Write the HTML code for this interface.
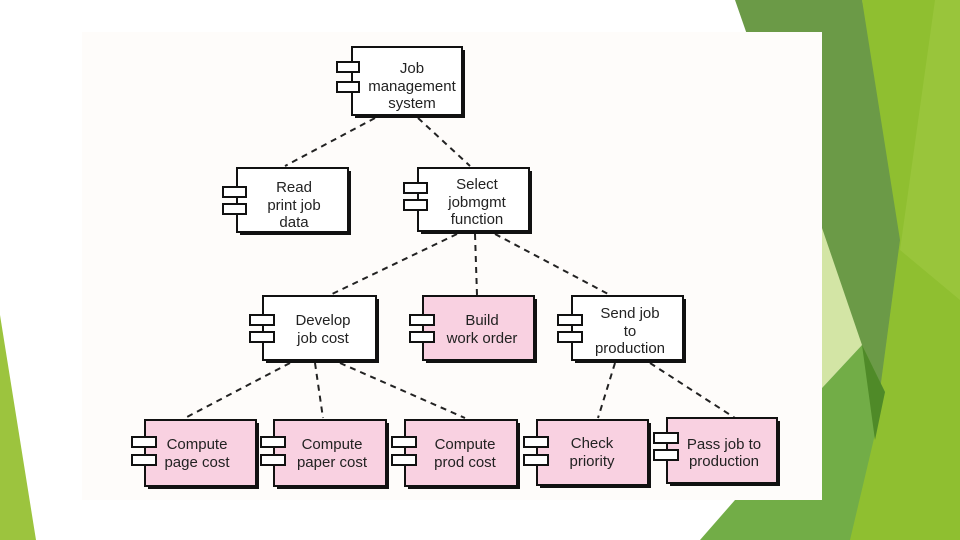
<!DOCTYPE html>
<html><head><style>
body{margin:0;width:960px;height:540px;overflow:hidden;background:#fff;font-family:"Liberation Sans",sans-serif}
</style></head><body>
<svg width="960" height="540" xmlns="http://www.w3.org/2000/svg" style="position:absolute;left:0;top:0">
<polygon points="0,315 36,540 0,540" fill="#9cc43e"/>
<polygon points="862,0 960,0 960,540 715,540 880,390" fill="#8fbf30"/>
<polygon points="935,0 960,0 960,300 900,250" fill="#9cc840" opacity="0.7"/>
<polygon points="735,0 862,0 900,240 880,390 822,250" fill="#6b9a47"/>
<polygon points="822,228 862,345 822,388" fill="#d3e5a5"/>
<polygon points="822,388 862,345 885,392 850,540 700,540 735,500 822,500" fill="#72ad47"/>
<polygon points="862,345 885,392 875,440" fill="#4f8a28"/>
<rect x="82" y="32" width="740" height="468" fill="#fefcfa"/>
<g stroke="#222" stroke-width="2" stroke-dasharray="6,5" fill="none">
<line x1="375" y1="118" x2="285" y2="166"/><line x1="418" y1="118" x2="470" y2="166"/>
<line x1="457" y1="234" x2="330" y2="295"/><line x1="475" y1="234" x2="477" y2="295"/><line x1="495" y1="234" x2="610" y2="295"/>
<line x1="290" y1="363" x2="185" y2="418"/><line x1="315" y1="363" x2="323" y2="418"/><line x1="340" y1="363" x2="465" y2="418"/>
<line x1="615" y1="363" x2="598" y2="418"/><line x1="650" y1="363" x2="735" y2="418"/>
</g>
<g font-size="15" fill="#222" text-anchor="middle">
<g>
<rect x="355" y="50" width="110" height="68" fill="#111"/>
<rect x="352" y="47" width="110" height="68" fill="#fff" stroke="#111" stroke-width="2"/>
<rect x="337" y="62" width="22" height="10" fill="#fff" stroke="#111" stroke-width="2"/>
<rect x="337" y="82" width="22" height="10" fill="#fff" stroke="#111" stroke-width="2"/>
<text x="412" y="73">Job</text><text x="412" y="91">management</text><text x="412" y="108">system</text>
</g>
<g>
<rect x="240" y="171" width="111" height="64" fill="#111"/>
<rect x="237" y="168" width="111" height="64" fill="#fff" stroke="#111" stroke-width="2"/>
<rect x="223" y="187" width="23" height="10" fill="#fff" stroke="#111" stroke-width="2"/>
<rect x="223" y="204" width="23" height="10" fill="#fff" stroke="#111" stroke-width="2"/>
<text x="294" y="192">Read</text><text x="294" y="210">print job</text><text x="294" y="227">data</text>
</g>
<g>
<rect x="421" y="171" width="111" height="63" fill="#111"/>
<rect x="418" y="168" width="111" height="63" fill="#fff" stroke="#111" stroke-width="2"/>
<rect x="404" y="183" width="23" height="10" fill="#fff" stroke="#111" stroke-width="2"/>
<rect x="404" y="200" width="23" height="10" fill="#fff" stroke="#111" stroke-width="2"/>
<text x="477" y="189">Select</text><text x="477" y="207">jobmgmt</text><text x="477" y="224">function</text>
</g>
<g>
<rect x="266" y="299" width="113" height="64" fill="#111"/>
<rect x="263" y="296" width="113" height="64" fill="#fff" stroke="#111" stroke-width="2"/>
<rect x="250" y="315" width="24" height="10" fill="#fff" stroke="#111" stroke-width="2"/>
<rect x="250" y="332" width="24" height="10" fill="#fff" stroke="#111" stroke-width="2"/>
<text x="323" y="325">Develop</text><text x="323" y="343">job cost</text>
</g>
<g>
<rect x="426" y="299" width="111" height="64" fill="#111"/>
<rect x="423" y="296" width="111" height="64" fill="#f9d1e1" stroke="#111" stroke-width="2"/>
<rect x="410" y="315" width="24" height="10" fill="#fff" stroke="#111" stroke-width="2"/>
<rect x="410" y="332" width="24" height="10" fill="#fff" stroke="#111" stroke-width="2"/>
<text x="482" y="325">Build</text><text x="482" y="343">work order</text>
</g>
<g>
<rect x="575" y="299" width="111" height="64" fill="#111"/>
<rect x="572" y="296" width="111" height="64" fill="#fff" stroke="#111" stroke-width="2"/>
<rect x="558" y="315" width="24" height="10" fill="#fff" stroke="#111" stroke-width="2"/>
<rect x="558" y="332" width="24" height="10" fill="#fff" stroke="#111" stroke-width="2"/>
<text x="630" y="318">Send job</text><text x="630" y="336">to</text><text x="630" y="353">production</text>
</g>
<g>
<rect x="148" y="423" width="111" height="66" fill="#111"/>
<rect x="145" y="420" width="111" height="66" fill="#f9d1e1" stroke="#111" stroke-width="2"/>
<rect x="132" y="437" width="24" height="10" fill="#fff" stroke="#111" stroke-width="2"/>
<rect x="132" y="455" width="24" height="10" fill="#fff" stroke="#111" stroke-width="2"/>
<text x="197" y="449">Compute</text><text x="197" y="467">page cost</text>
</g>
<g>
<rect x="277" y="423" width="112" height="66" fill="#111"/>
<rect x="274" y="420" width="112" height="66" fill="#f9d1e1" stroke="#111" stroke-width="2"/>
<rect x="261" y="437" width="24" height="10" fill="#fff" stroke="#111" stroke-width="2"/>
<rect x="261" y="455" width="24" height="10" fill="#fff" stroke="#111" stroke-width="2"/>
<text x="332" y="449">Compute</text><text x="332" y="467">paper cost</text>
</g>
<g>
<rect x="408" y="423" width="112" height="66" fill="#111"/>
<rect x="405" y="420" width="112" height="66" fill="#f9d1e1" stroke="#111" stroke-width="2"/>
<rect x="392" y="437" width="24" height="10" fill="#fff" stroke="#111" stroke-width="2"/>
<rect x="392" y="455" width="24" height="10" fill="#fff" stroke="#111" stroke-width="2"/>
<text x="465" y="449">Compute</text><text x="465" y="467">prod cost</text>
</g>
<g>
<rect x="540" y="423" width="111" height="65" fill="#111"/>
<rect x="537" y="420" width="111" height="65" fill="#f9d1e1" stroke="#111" stroke-width="2"/>
<rect x="524" y="437" width="24" height="10" fill="#fff" stroke="#111" stroke-width="2"/>
<rect x="524" y="455" width="24" height="10" fill="#fff" stroke="#111" stroke-width="2"/>
<text x="592" y="448">Check</text><text x="592" y="466">priority</text>
</g>
<g>
<rect x="670" y="421" width="110" height="65" fill="#111"/>
<rect x="667" y="418" width="110" height="65" fill="#f9d1e1" stroke="#111" stroke-width="2"/>
<rect x="654" y="433" width="24" height="10" fill="#fff" stroke="#111" stroke-width="2"/>
<rect x="654" y="450" width="24" height="10" fill="#fff" stroke="#111" stroke-width="2"/>
<text x="724" y="449">Pass job to</text><text x="724" y="466">production</text>
</g>
</g>
</svg>
</body></html>
